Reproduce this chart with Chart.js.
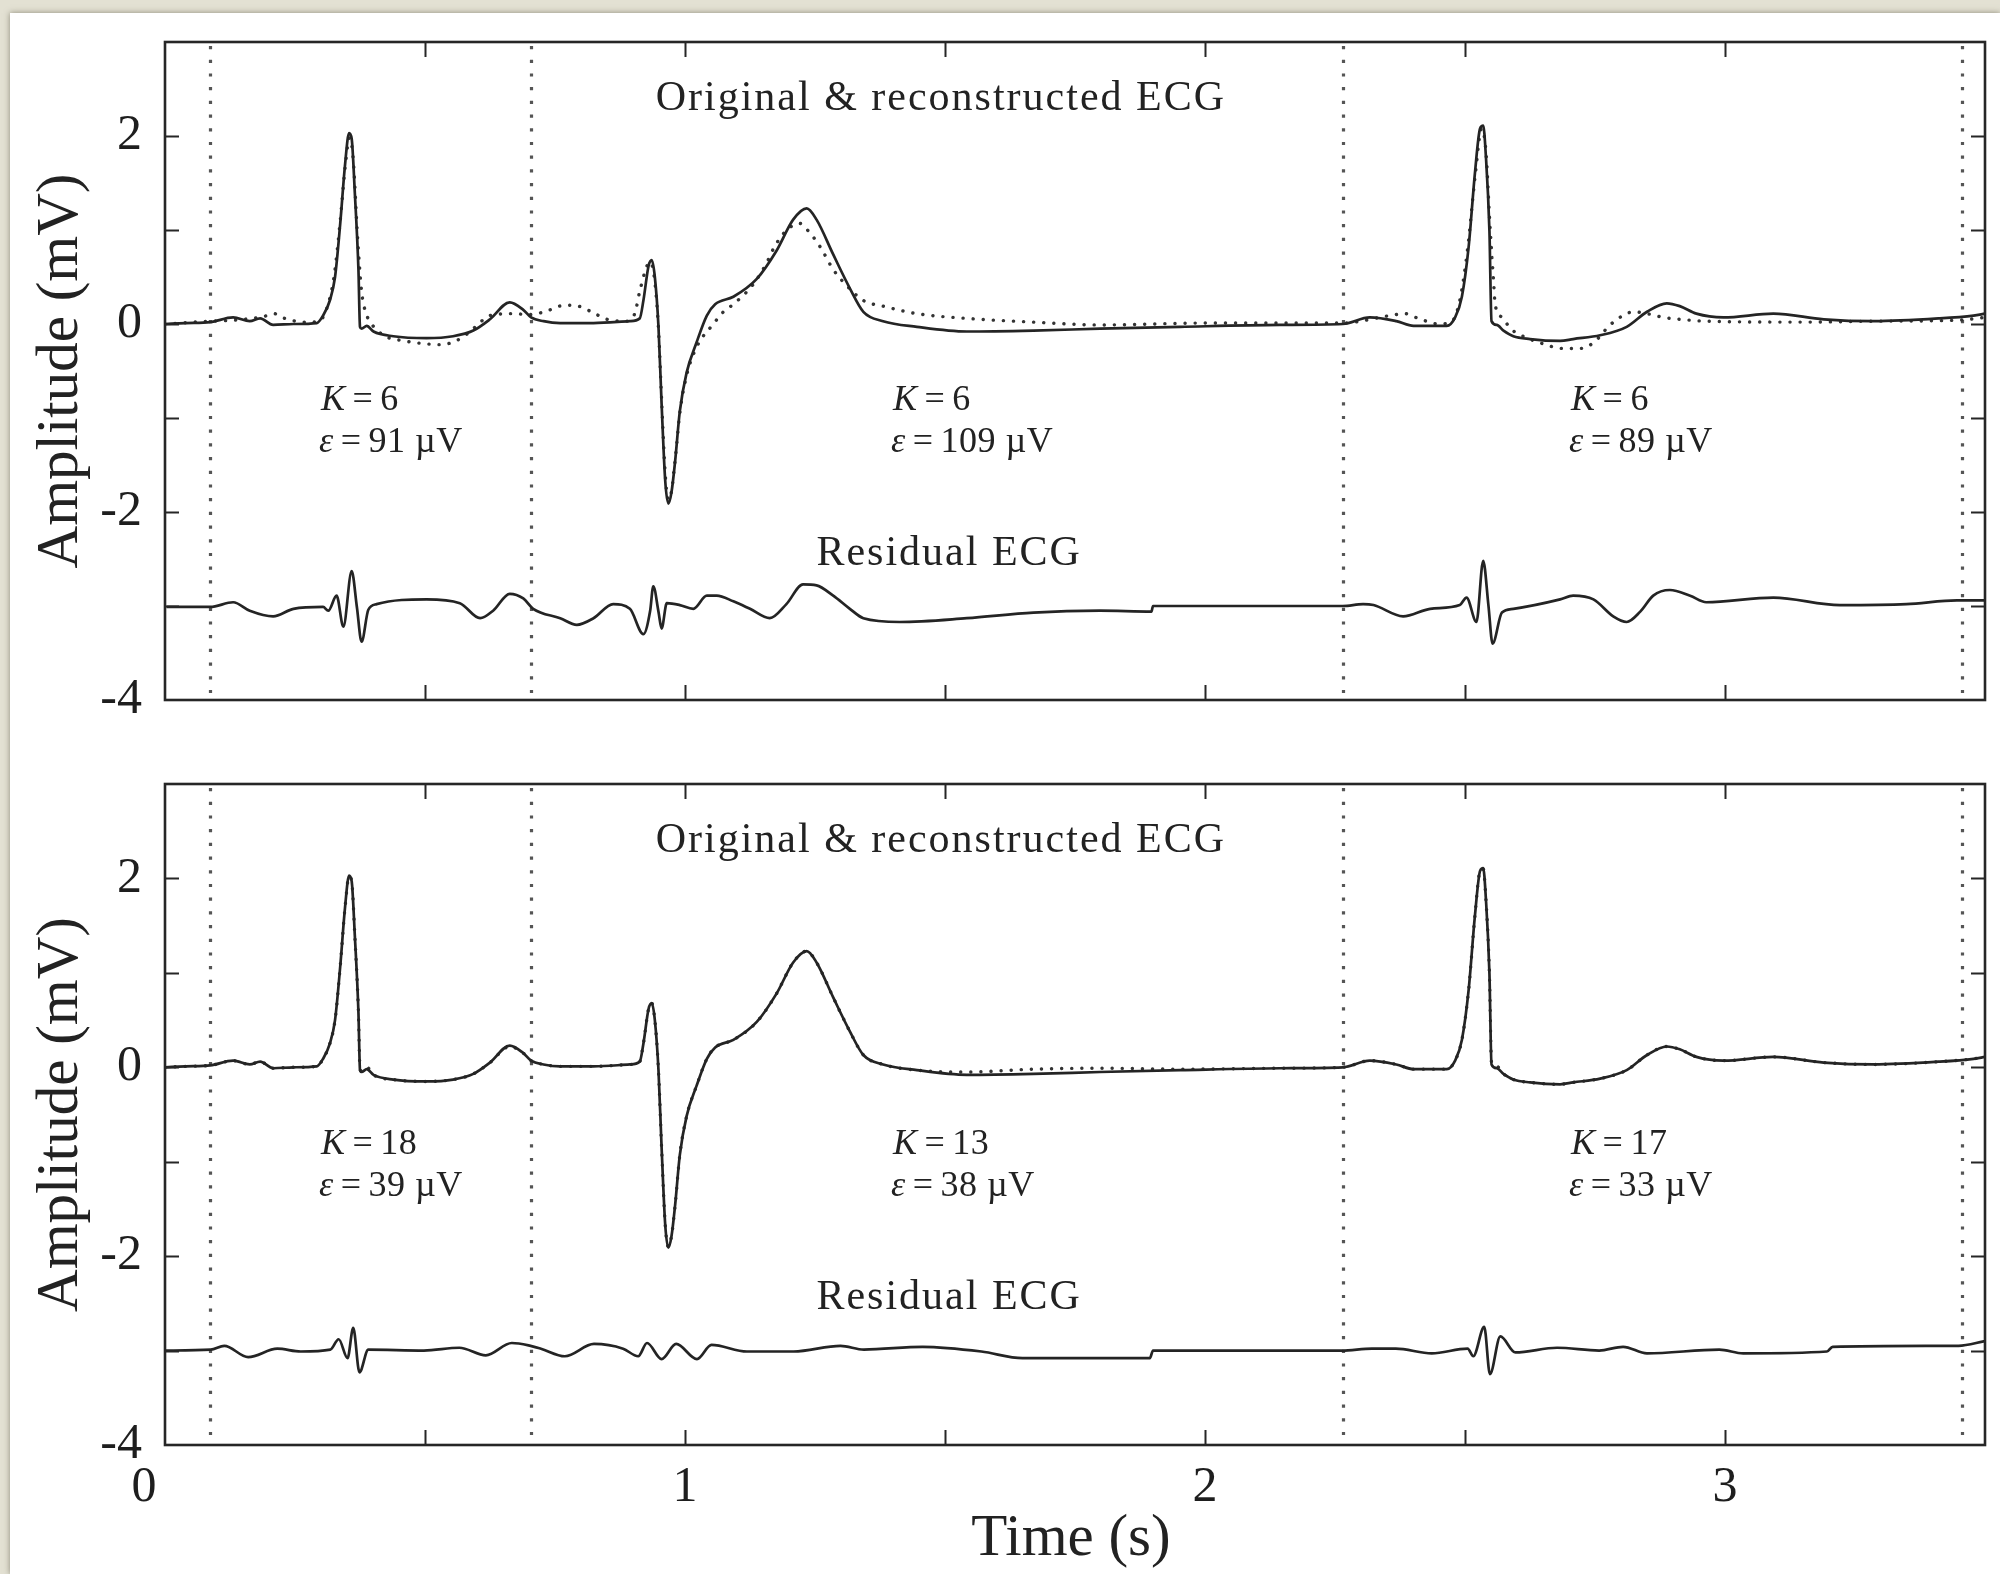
<!DOCTYPE html>
<html>
<head>
<meta charset="utf-8">
<title>ECG segments: original, reconstructed and residual</title>
<script src="https://cdn.jsdelivr.net/npm/chart.js@4/dist/chart.umd.min.js"></script>
<style>
  html, body { margin: 0; padding: 0; width: 2000px; height: 1574px; overflow: hidden; background: #e3e1d3; }
  #sheet { position: absolute; left: 10px; top: 13px; width: 1990px; height: 1561px; background: #ffffff;
           box-shadow: 0 0 6px rgba(70, 64, 45, 0.55); }
  canvas { position: absolute; left: 0; }
  #top { top: 0; }
  #bottom { top: 740px; }
</style>
</head>
<body>
<div id="sheet"></div>
<canvas id="top" width="2000" height="740"></canvas>
<canvas id="bottom" width="2000" height="834"></canvas>
<script>
// ---- recorded ECG (mV) ----
const ecgTime = [0.000,0.040,0.087,0.131,0.163,0.183,0.208,0.247,0.292,0.304,0.317,0.327,0.337,0.346,0.354,0.359,0.365,0.372,0.375,0.378,0.388,0.401,0.439,0.503,0.554,0.593,0.625,0.663,0.689,0.704,0.728,0.760,0.824,0.894,0.913,0.920,0.930,0.936,0.942,0.949,0.955,0.962,0.968,0.974,0.981,0.990,1.003,1.022,1.042,1.058,1.093,1.138,1.176,1.208,1.234,1.253,1.285,1.317,1.343,1.381,1.446,1.542,1.670,1.798,1.952,2.144,2.265,2.317,2.368,2.401,2.465,2.481,2.494,2.507,2.519,2.529,2.535,2.540,2.547,2.551,2.561,2.574,2.593,2.625,2.683,2.708,2.760,2.811,2.850,2.888,2.913,2.945,2.997,3.093,3.190,3.285,3.413,3.478,3.500];
const ecgOriginal = [0.00,0.01,0.02,0.07,0.03,0.06,-0.01,0.00,0.01,0.09,0.25,0.50,1.07,1.68,2.03,1.97,1.40,0.58,-0.03,-0.05,-0.02,-0.08,-0.13,-0.15,-0.13,-0.07,0.05,0.23,0.15,0.07,0.03,0.01,0.01,0.03,0.06,0.25,0.62,0.68,0.50,-0.03,-0.85,-1.67,-1.91,-1.79,-1.46,-0.93,-0.52,-0.20,0.09,0.21,0.29,0.48,0.78,1.11,1.23,1.11,0.74,0.38,0.13,0.03,-0.03,-0.08,-0.07,-0.05,-0.03,-0.01,0.00,0.07,0.03,-0.02,-0.02,0.07,0.29,0.82,1.60,2.08,2.11,1.80,0.99,0.03,-0.01,-0.07,-0.13,-0.16,-0.18,-0.16,-0.12,-0.03,0.13,0.22,0.19,0.11,0.07,0.11,0.05,0.03,0.06,0.09,0.11];

// ---- reconstruction with K = 6 per segment ----
const reconCoarseTime = [0.000,0.087,0.130,0.190,0.210,0.230,0.270,0.296,0.310,0.325,0.337,0.347,0.355,0.362,0.370,0.378,0.385,0.395,0.420,0.460,0.500,0.530,0.570,0.595,0.625,0.670,0.700,0.730,0.769,0.795,0.820,0.850,0.885,0.901,0.907,0.913,0.933,0.942,0.949,0.955,0.962,0.968,0.974,0.981,0.990,1.003,1.022,1.056,1.074,1.093,1.131,1.157,1.170,1.189,1.208,1.221,1.237,1.260,1.285,1.304,1.343,1.381,1.446,1.542,1.670,1.798,2.000,2.265,2.356,2.385,2.410,2.450,2.475,2.490,2.505,2.520,2.532,2.540,2.548,2.555,2.558,2.571,2.590,2.620,2.644,2.689,2.721,2.747,2.779,2.804,2.824,2.850,2.882,2.913,2.964,3.156,3.285,3.446,3.500];
const reconCoarse = [0.00,0.03,0.04,0.08,0.11,0.06,0.02,0.03,0.15,0.50,1.10,1.70,1.98,1.75,0.95,0.35,0.14,0.02,-0.12,-0.18,-0.21,-0.22,-0.15,-0.04,0.09,0.11,0.10,0.13,0.20,0.19,0.13,0.05,0.03,0.08,0.19,0.35,0.66,0.45,-0.05,-0.80,-1.60,-1.87,-1.78,-1.45,-0.95,-0.55,-0.25,0.01,0.13,0.21,0.42,0.65,0.80,0.96,1.05,1.07,0.99,0.82,0.58,0.45,0.25,0.19,0.11,0.06,0.02,-0.01,0.01,0.01,0.09,0.11,0.06,0.00,0.03,0.25,0.80,1.60,2.08,1.85,1.05,0.45,0.21,0.07,-0.06,-0.15,-0.20,-0.26,-0.26,-0.20,-0.01,0.09,0.13,0.11,0.07,0.05,0.03,0.02,0.03,0.04,0.07];

// residual (original - reconstruction), plotted 3 mV below the baseline
const residualCoarseTime = [0.003,0.087,0.131,0.163,0.208,0.247,0.304,0.314,0.330,0.343,0.359,0.369,0.378,0.391,0.407,0.503,0.567,0.606,0.631,0.663,0.689,0.708,0.760,0.792,0.824,0.862,0.894,0.920,0.933,0.939,0.949,0.955,0.965,0.990,1.016,1.042,1.061,1.093,1.125,1.163,1.195,1.227,1.253,1.285,1.317,1.343,1.413,1.542,1.670,1.798,1.897,1.900,2.265,2.304,2.324,2.381,2.433,2.490,2.503,2.522,2.535,2.545,2.553,2.571,2.593,2.683,2.708,2.747,2.785,2.811,2.837,2.862,2.894,2.933,2.964,3.093,3.221,3.349,3.446,3.500];
const residualCoarse = [-3.01,-3.01,-2.96,-3.05,-3.11,-3.03,-3.01,-3.05,-2.89,-3.22,-2.63,-3.01,-3.38,-3.04,-2.98,-2.93,-2.97,-3.13,-3.05,-2.87,-2.92,-3.03,-3.13,-3.20,-3.13,-2.98,-3.03,-3.30,-3.05,-2.79,-3.06,-3.24,-2.97,-2.99,-3.03,-2.89,-2.89,-2.95,-3.03,-3.13,-2.98,-2.77,-2.78,-2.89,-3.03,-3.13,-3.17,-3.13,-3.07,-3.05,-3.06,-3.00,-3.00,-2.98,-2.99,-3.11,-3.03,-2.99,-2.91,-3.17,-2.52,-2.99,-3.40,-3.07,-3.03,-2.93,-2.89,-2.93,-3.11,-3.17,-3.06,-2.89,-2.83,-2.89,-2.96,-2.91,-2.99,-2.98,-2.94,-2.94];

// ---- reconstruction with adaptive K (same sampling as the recording) ----
const reconFine = [0.00,0.01,0.02,0.07,0.03,0.06,-0.01,0.00,0.01,0.09,0.25,0.50,1.07,1.68,2.02,1.97,1.40,0.58,-0.02,-0.04,0.00,-0.08,-0.13,-0.15,-0.13,-0.07,0.05,0.22,0.15,0.07,0.03,0.01,0.01,0.03,0.06,0.25,0.62,0.68,0.50,-0.03,-0.85,-1.67,-1.90,-1.79,-1.46,-0.93,-0.52,-0.20,0.09,0.21,0.29,0.48,0.78,1.11,1.23,1.11,0.74,0.38,0.13,0.03,-0.03,-0.05,-0.02,-0.01,-0.02,-0.01,0.00,0.07,0.03,-0.02,-0.02,0.07,0.29,0.82,1.60,2.08,2.10,1.80,0.99,0.05,0.01,-0.07,-0.13,-0.16,-0.18,-0.16,-0.12,-0.03,0.13,0.22,0.19,0.11,0.07,0.11,0.05,0.03,0.06,0.09,0.11];

const residualFineTime = [0.000,0.088,0.114,0.160,0.216,0.261,0.318,0.334,0.351,0.362,0.374,0.391,0.498,0.566,0.617,0.667,0.703,0.723,0.769,0.825,0.881,0.910,0.927,0.955,0.983,1.023,1.051,1.119,1.209,1.299,1.344,1.457,1.570,1.649,1.721,1.894,1.900,2.263,2.321,2.367,2.436,2.505,2.516,2.537,2.548,2.568,2.597,2.677,2.758,2.804,2.850,2.989,3.035,3.196,3.207,3.449,3.500];
const residualFine = [-3.00,-2.99,-2.95,-3.07,-2.98,-3.01,-2.99,-2.88,-3.08,-2.76,-3.23,-2.99,-3.00,-2.97,-3.05,-2.92,-2.95,-2.98,-3.06,-2.93,-2.98,-3.06,-2.92,-3.09,-2.93,-3.09,-2.94,-3.01,-3.01,-2.95,-2.99,-2.96,-3.01,-3.08,-3.08,-3.08,-3.00,-3.00,-2.98,-2.98,-3.03,-2.98,-3.06,-2.75,-3.25,-2.85,-3.02,-2.97,-3.00,-2.96,-3.03,-2.99,-3.03,-3.01,-2.96,-2.95,-2.90];

// ---- segment boundaries (s) and per-segment figures ----
const segmentBounds = [0.087, 0.703, 2.266, 3.456];
const segmentLabelTime = [0.30, 1.40, 2.704];
const coarseK = [6, 6, 6];
const coarseErr = [91, 109, 89];
const fineK = [18, 13, 17];
const fineErr = [39, 38, 33];

// ---- axis ticks ----
const yTickValues = [-4, -2, 0, 2];
const xTickValues = [0, 1, 2, 3];

const SERIF = '"Liberation Serif", "DejaVu Serif", serif';
const INK = '#242424';

function pairs(ts, vs) { return ts.map((t, i) => ({ x: t, y: vs[i] })); }

function solidSet(data) {
  return { data, borderColor: INK, borderWidth: 2.7, pointRadius: 0, cubicInterpolationMode: 'monotone',
           fill: false, order: 1 };
}
function dottedSet(data) {
  return { data, borderColor: '#333333', borderWidth: 3.4, borderDash: [0.1, 10], borderCapStyle: 'round',
           pointRadius: 0, cubicInterpolationMode: 'monotone', fill: false, order: 2 };
}

function setSpacing(ctx, px) { if ('letterSpacing' in ctx) ctx.letterSpacing = px + 'px'; }

// draws a run of text pieces; a piece may be italic and may carry extra space after it
function drawRuns(ctx, x, y, runs, size) {
  runs.forEach(r => {
    ctx.font = (r.italic ? 'italic ' : '') + size + 'px ' + SERIF;
    ctx.fillText(r.text, x, y);
    x += ctx.measureText(r.text).width + (r.gap || 0);
  });
}

function decorPlugin(kVals, errVals, withTimeAxis) {
  return {
    id: 'panelDecor',
    beforeDatasetsDraw(chart) {
      const { ctx, chartArea: a, scales: { x } } = chart;
      ctx.save();
      ctx.strokeStyle = '#555555';
      ctx.lineWidth = 3.2;
      ctx.setLineDash([3.2, 10.5]);
      segmentBounds.forEach(t => {
        const px = Math.round(x.getPixelForValue(t)) + 0.5;
        ctx.beginPath(); ctx.moveTo(px, a.top + 4); ctx.lineTo(px, a.bottom); ctx.stroke();
      });
      ctx.restore();
    },
    afterDatasetsDraw(chart) {
      const { ctx, chartArea: a, scales: { x, y } } = chart;
      ctx.save();
      // frame
      ctx.strokeStyle = '#262626';
      ctx.lineWidth = 2.6;
      ctx.strokeRect(a.left, a.top, a.right - a.left, a.bottom - a.top);
      // inward tick marks
      ctx.lineWidth = 2;
      x.ticks.forEach(tk => {
        const px = Math.round(x.getPixelForValue(tk.value)) + 0.5;
        if (px <= a.left + 2 || px >= a.right - 2) return;
        ctx.beginPath();
        ctx.moveTo(px, a.top); ctx.lineTo(px, a.top + 15);
        ctx.moveTo(px, a.bottom); ctx.lineTo(px, a.bottom - 15);
        ctx.stroke();
      });
      y.ticks.forEach(tk => {
        const py = Math.round(y.getPixelForValue(tk.value)) + 0.5;
        if (py <= a.top + 2 || py >= a.bottom - 2) return;
        ctx.beginPath();
        ctx.moveTo(a.left, py); ctx.lineTo(a.left + 14, py);
        ctx.moveTo(a.right, py); ctx.lineTo(a.right - 14, py);
        ctx.stroke();
      });

      // panel captions
      ctx.fillStyle = '#222';
      ctx.textAlign = 'center';
      ctx.textBaseline = 'alphabetic';
      ctx.font = '42px ' + SERIF;
      setSpacing(ctx, 2);
      ctx.fillText('Original & reconstructed ECG', x.getPixelForValue(1.492), y.getPixelForValue(2.28));
      ctx.fillText('Residual ECG', x.getPixelForValue(1.508), y.getPixelForValue(-2.56));

      // per-segment K and error
      ctx.textAlign = 'left';
      setSpacing(ctx, 0.5);
      segmentLabelTime.forEach((t, i) => {
        const px = x.getPixelForValue(t);
        drawRuns(ctx, px, y.getPixelForValue(-0.915),
          [{ text: 'K', italic: true, gap: 7 }, { text: '=', gap: 7 }, { text: String(kVals[i]) }], 36);
        drawRuns(ctx, px - 2, y.getPixelForValue(-1.36),
          [{ text: 'ε', italic: true, gap: 7 }, { text: '=', gap: 7 }, { text: errVals[i] + ' µV' }], 36);
      });
      setSpacing(ctx, 0);

      // axis titles
      ctx.font = '59px ' + SERIF;
      ctx.textAlign = 'center';
      ctx.textBaseline = 'middle';
      ctx.save();
      ctx.translate(61, (a.top + a.bottom) / 2);
      ctx.rotate(-Math.PI / 2);
      ctx.fillText('Amplitude (mV)', 0, 0);
      ctx.restore();

      if (withTimeAxis) {
        ctx.fillText('Time (s)', (a.left + a.right) / 2 - 4, a.bottom + 94);
        // the origin label sits left of the corner, clear of the "-4"
        const ref = x.getLabelItems().find(it => it.label === '1');
        if (ref) {
          ctx.font = '50px ' + SERIF;
          ctx.fillStyle = '#1e1e1e';
          ctx.textAlign = 'center';
          ctx.textBaseline = ref.options.textBaseline;
          ctx.fillText('0', x.getPixelForValue(0) - 21, ref.options.translation[1] + (ref.textOffset || 0));
        }
      }
      ctx.restore();
    }
  };
}

function buildPanel(canvasId, reconData, residualData, kVals, errVals, withTimeAxis, padTop, xAxisHeight) {
  return new Chart(document.getElementById(canvasId), {
    type: 'line',
    data: {
      datasets: [
        solidSet(pairs(ecgTime, ecgOriginal)),
        dottedSet(reconData),
        solidSet(residualData)
      ]
    },
    options: {
      responsive: false,
      devicePixelRatio: 1,
      animation: false,
      events: [],
      layout: { padding: { top: padTop, right: 15, left: 0, bottom: 0 } },
      plugins: { legend: { display: false }, tooltip: { enabled: false } },
      scales: {
        x: {
          type: 'linear', min: 0, max: 3.5,
          grid: { display: false, drawTicks: false, tickLength: 0 },
          border: { display: false },
          ticks: {
            display: withTimeAxis, stepSize: 0.5, autoSkip: false, maxRotation: 0, padding: 13,
            color: '#1e1e1e', font: { family: SERIF, size: 50 },
            callback: v => (xTickValues.includes(v) && v !== 0) ? String(v) : ''
          },
          afterFit: s => { s.height = xAxisHeight; s.paddingLeft = 0; s.paddingRight = 0; }
        },
        y: {
          min: -4, max: 3,
          grid: { display: false, drawTicks: false, tickLength: 0 },
          border: { display: false },
          ticks: {
            stepSize: 1, autoSkip: false, padding: 23,
            color: '#1e1e1e', font: { family: SERIF, size: 50 },
            callback: v => yTickValues.includes(v) ? String(v) : ''
          },
          afterFit: s => { s.width = 165; s.paddingTop = 0; s.paddingBottom = 0; }
        }
      }
    },
    plugins: [decorPlugin(kVals, errVals, withTimeAxis)]
  });
}

buildPanel('top', pairs(reconCoarseTime, reconCoarse), pairs(residualCoarseTime, residualCoarse),
           coarseK, coarseErr, false, 42, 40);
buildPanel('bottom', pairs(ecgTime, reconFine), pairs(residualFineTime, residualFine),
           fineK, fineErr, true, 44, 129);
</script>
</body>
</html>
